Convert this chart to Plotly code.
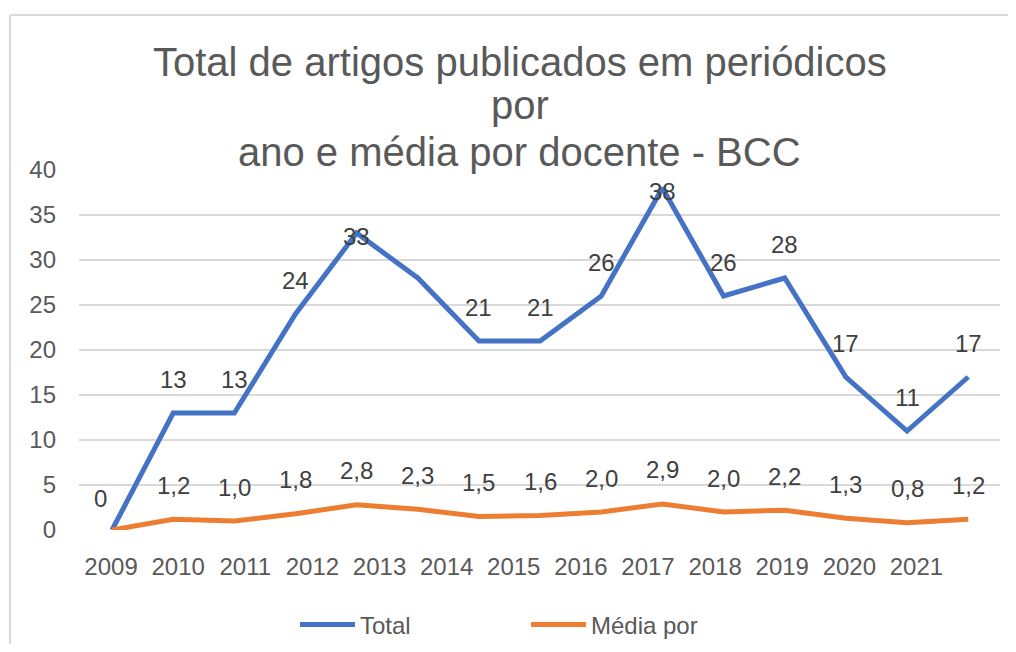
import plotly.graph_objects as go

# ---- data ----
years = ["2009", "2010", "2011", "2012", "2013", "2014", "2015",
         "2016", "2017", "2018", "2019", "2020", "2021"]
total = [0, 13, 13, 24, 33, 28, 21, 21, 26, 38, 26, 28, 17, 11, 17]
media = [0, 1.2, 1.0, 1.8, 2.8, 2.3, 1.5, 1.6, 2.0, 2.9, 2.0, 2.2, 1.3, 0.8, 1.2]

BLUE = "#4472C4"
ORANGE = "#ED7D31"
TXT = "#595959"
LBL = "#404040"
FONT = "Liberation Sans, Arial, sans-serif"

idx = list(range(len(total)))
LABEL_STEP = 1.0975  # spacing of the year labels relative to the points
tickvals = [k * LABEL_STEP - 0.016 for k in range(len(years))]

fig = go.Figure()
fig.add_trace(go.Scatter(x=idx, y=total, mode="lines", name="Total",
                         line=dict(color=BLUE, width=5), hoverinfo="skip"))
fig.add_trace(go.Scatter(x=idx, y=media, mode="lines", name="Média por",
                         line=dict(color=ORANGE, width=5), hoverinfo="skip"))

annotations = []
# data labels for Total
peak_idx = {4, 9}
hidden_total = {5}
for i, v in zip(idx, total):
    if i in hidden_total:
        continue
    ys = 34
    xs = 0
    if i in peak_idx:
        ys = -3
    if i == 0:
        xs, ys = -12, 32
    annotations.append(dict(x=i, y=v, xref="x", yref="y", text=str(v),
                            showarrow=False, xanchor="center", yanchor="middle",
                            xshift=xs, yshift=ys,
                            font=dict(family=FONT, size=24, color=LBL)))
# data labels for Média
for i, v in zip(idx, media):
    if i == 0:
        continue
    annotations.append(dict(x=i, y=v, xref="x", yref="y",
                            text=f"{v:.1f}".replace(".", ","),
                            showarrow=False, xanchor="center", yanchor="middle",
                            yshift=34,
                            font=dict(family=FONT, size=24, color=LBL)))

# title lines
title_lines = ["Total de artigos publicados em periódicos", "por",
               "ano e média por docente - BCC"]
title_y = [1.30, 1.1815, 1.0490]
for t, yy in zip(title_lines, title_y):
    annotations.append(dict(x=0.4788, y=yy, xref="paper", yref="paper", text=t,
                            showarrow=False, xanchor="center", yanchor="middle",
                            font=dict(family=FONT, size=40, color=TXT)))

border = dict(color="#D9D9D9", width=2)
fig.update_layout(
    width=1000, height=636,
    margin=dict(l=71, r=8, t=162, b=114, autoexpand=False),
    paper_bgcolor="white", plot_bgcolor="white",
    font=dict(family=FONT, size=24, color=TXT),
    showlegend=True,
    legend=dict(orientation="h", x=0.2345, xanchor="left", y=-0.2639,
                yanchor="middle", font=dict(family=FONT, size=24, color=TXT),
                entrywidth=161, itemwidth=55, bgcolor="rgba(0,0,0,0)"),
    annotations=annotations,
    shapes=[
        dict(type="line", xref="paper", yref="paper",
             x0=-0.0749, x1=1.1, y0=1.4306, y1=1.4306, line=border, layer="below"),
        dict(type="line", xref="paper", yref="paper",
             x0=-0.0749, x1=-0.0749, y0=-0.6, y1=1.4306, line=border, layer="below"),
    ],
)
fig.update_xaxes(range=[-0.54, 14.52], tickvals=tickvals, ticktext=years,
                 showgrid=False, zeroline=False, showline=False, ticks="",
                 ticklabelstandoff=20,
                 tickfont=dict(family=FONT, size=24, color=TXT))
fig.update_yaxes(range=[0, 40], dtick=5, showgrid=True, gridcolor="#D9D9D9",
                 gridwidth=1.5, zeroline=False, showline=False, ticks="",
                 ticklabelstandoff=22,
                 tickfont=dict(family=FONT, size=24, color=TXT))

fig.write_html("out.html")
